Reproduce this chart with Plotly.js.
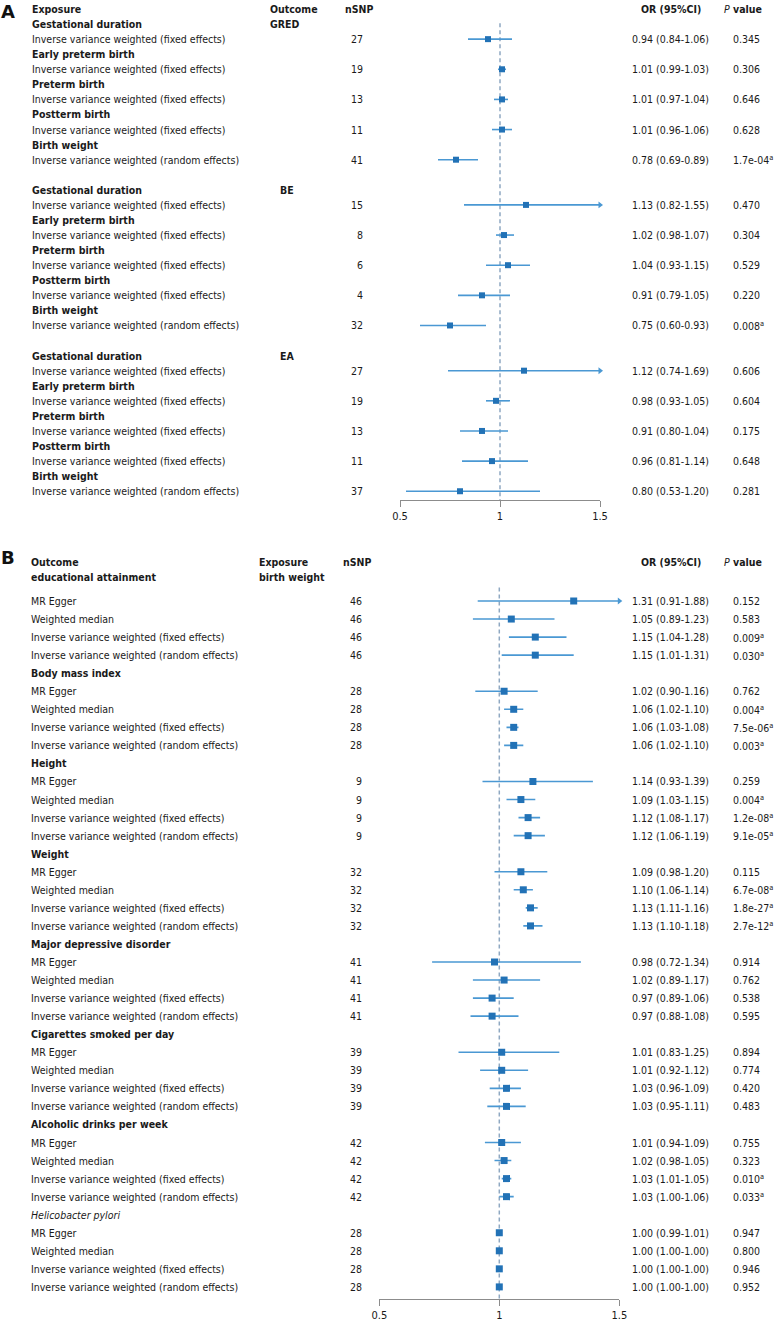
<!DOCTYPE html>
<html>
<head>
<meta charset="utf-8">
<script src="https://cdn.plot.ly/plotly-3.0.1.min.js"></script>
<style>html,body{margin:0;padding:0;background:#fff;}#chart{width:781px;height:1321px;}</style>
</head>
<body>
<div id="chart"></div>
<script>
// ---------- Panel A data ----------
const A_outcomes = ['GRED', 'BE', 'EA'];
const A_exposures = ['Gestational duration', 'Early preterm birth', 'Preterm birth', 'Postterm birth', 'Birth weight'];
const A_methods = ['Inverse variance weighted (fixed effects)', 'Inverse variance weighted (fixed effects)',
  'Inverse variance weighted (fixed effects)', 'Inverse variance weighted (fixed effects)',
  'Inverse variance weighted (random effects)'];
const A_nsnp = [27, 19, 13, 11, 41, 15, 8, 6, 4, 32, 27, 19, 13, 11, 37];
const A_or = [0.94, 1.01, 1.01, 1.01, 0.78, 1.13, 1.02, 1.04, 0.91, 0.75, 1.12, 0.98, 0.91, 0.96, 0.80];
const A_lo = [0.84, 0.99, 0.97, 0.96, 0.69, 0.82, 0.98, 0.93, 0.79, 0.60, 0.74, 0.93, 0.80, 0.81, 0.53];
const A_hi = [1.06, 1.03, 1.04, 1.06, 0.89, 1.55, 1.07, 1.15, 1.05, 0.93, 1.69, 1.05, 1.04, 1.14, 1.20];
const A_p = ['0.345', '0.306', '0.646', '0.628', '1.7e-04', '0.470', '0.304', '0.529', '0.220', '0.008',
  '0.606', '0.604', '0.175', '0.648', '0.281'];
const A_sig = [0, 0, 0, 0, 1, 0, 0, 0, 0, 1, 0, 0, 0, 0, 0];

// ---------- Panel B data ----------
const B_exposure = 'birth weight';
const B_outcomes = ['educational attainment', 'Body mass index', 'Height', 'Weight', 'Major depressive disorder',
  'Cigarettes smoked per day', 'Alcoholic drinks per week', 'Helicobacter pylori'];
const B_methods = ['MR Egger', 'Weighted median', 'Inverse variance weighted (fixed effects)',
  'Inverse variance weighted (random effects)'];
const B_nsnp = [46, 46, 46, 46, 28, 28, 28, 28, 9, 9, 9, 9, 32, 32, 32, 32, 41, 41, 41, 41,
  39, 39, 39, 39, 42, 42, 42, 42, 28, 28, 28, 28];
const B_or = [1.31, 1.05, 1.15, 1.15, 1.02, 1.06, 1.06, 1.06, 1.14, 1.09, 1.12, 1.12, 1.09, 1.10, 1.13, 1.13,
  0.98, 1.02, 0.97, 0.97, 1.01, 1.01, 1.03, 1.03, 1.01, 1.02, 1.03, 1.03, 1.00, 1.00, 1.00, 1.00];
const B_lo = [0.91, 0.89, 1.04, 1.01, 0.90, 1.02, 1.03, 1.02, 0.93, 1.03, 1.08, 1.06, 0.98, 1.06, 1.11, 1.10,
  0.72, 0.89, 0.89, 0.88, 0.83, 0.92, 0.96, 0.95, 0.94, 0.98, 1.01, 1.00, 0.99, 1.00, 1.00, 1.00];
const B_hi = [1.88, 1.23, 1.28, 1.31, 1.16, 1.10, 1.08, 1.10, 1.39, 1.15, 1.17, 1.19, 1.20, 1.14, 1.16, 1.18,
  1.34, 1.17, 1.06, 1.08, 1.25, 1.12, 1.09, 1.11, 1.09, 1.05, 1.05, 1.06, 1.01, 1.00, 1.00, 1.00];
const B_p = ['0.152', '0.583', '0.009', '0.030', '0.762', '0.004', '7.5e-06', '0.003',
  '0.259', '0.004', '1.2e-08', '9.1e-05', '0.115', '6.7e-08', '1.8e-27', '2.7e-12',
  '0.914', '0.762', '0.538', '0.595', '0.894', '0.774', '0.420', '0.483',
  '0.755', '0.323', '0.010', '0.033', '0.947', '0.800', '0.946', '0.952'];
const B_sig = [0, 0, 1, 1, 0, 1, 1, 1, 0, 1, 1, 1, 0, 1, 1, 1, 0, 0, 0, 0, 0, 0, 0, 0, 0, 0, 1, 1, 0, 0, 0, 0];

const TICKS = [0.5, 1, 1.5];
const CAP = 1.5;

// ---------- style ----------
const W = 781, H = 1321;
const FONT = 'DejaVu Sans Condensed, DejaVu Sans, sans-serif';
const FS = 10.5;
const TXT = '#1a1a1a';
const MARK = '#2272b6';
const LINE = '#4a98d3';
const px = v => v / W;

const annotations = [];
function ann(x, y, yref, text, anchor, extra) {
  annotations.push(Object.assign({
    xref: 'paper', x: px(x), yref: yref, y: y, text: text, showarrow: false,
    xanchor: anchor || 'left', yanchor: 'middle', borderpad: 0,
    font: {family: FONT, size: FS, color: TXT}
  }, extra || {}));
}
const fmt = v => v.toFixed(2);

// ---------- Panel A layout (rows in line units) ----------
const aRows = [], aHead = [];
A_outcomes.forEach((o, g) => {
  const base = 1 + 11 * g;
  A_exposures.forEach((e, k) => {
    aHead.push(base + 2 * k);
    aRows.push(base + 2 * k + 1);
  });
});

ann(0, 1, 'paper', '<b>A</b>', 'left', {yanchor: 'top', font: {family: 'DejaVu Sans, sans-serif', size: 18, color: '#111'}});
ann(31, 0, 'y', '<b>Exposure</b>');
ann(269, 0, 'y', '<b>Outcome</b>');
ann(344, 0, 'y', '<b>nSNP</b>');
ann(671, 0, 'y', '<b>OR (95%CI)</b>', 'center');
ann(723, 0, 'y', '<i>P</i><b> value</b>');
A_outcomes.forEach((o, g) => ann(g === 0 ? 269 : 279, 1 + 11 * g, 'y', '<b>' + o + '</b>'));
aHead.forEach((y, i) => ann(31, y, 'y', '<b>' + A_exposures[i % 5] + '</b>'));
aRows.forEach((y, i) => {
  ann(31, y, 'y', A_methods[i % 5]);
  ann(364, y, 'y', String(A_nsnp[i]), 'right');
  ann(631, y, 'y', fmt(A_or[i]) + ' (' + fmt(A_lo[i]) + '-' + fmt(A_hi[i]) + ')');
  ann(732, y, 'y', A_p[i] + (A_sig[i] ? '<sup>a</sup>' : ''));
});

// ---------- Panel B layout (rows in row units) ----------
const bRows = [], bHead = [];
B_outcomes.forEach((o, g) => {
  const base = g === 0 ? 0 : 4 + 5 * (g - 1) + 1;
  if (g > 0) bHead.push(base - 1);
  B_methods.forEach((m, k) => bRows.push(base + k));
});
const BH1 = -2.16, BH2 = -1.33;
ann(0, BH1 - 0.25, 'y2', '<b>B</b>', 'left', {font: {family: 'DejaVu Sans, sans-serif', size: 18, color: '#111'}});
ann(30, BH1, 'y2', '<b>Outcome</b>');
ann(30, BH2, 'y2', '<b>' + B_outcomes[0] + '</b>');
ann(258, BH1, 'y2', '<b>Exposure</b>');
ann(258, BH2, 'y2', '<b>' + B_exposure + '</b>');
ann(342, BH1, 'y2', '<b>nSNP</b>');
ann(671, BH1, 'y2', '<b>OR (95%CI)</b>', 'center');
ann(723, BH1, 'y2', '<i>P</i><b> value</b>');
bHead.forEach((y, i) => {
  const name = B_outcomes[i + 1];
  ann(30, y, 'y2', name === 'Helicobacter pylori' ? '<i>' + name + '</i>' : '<b>' + name + '</b>');
});
bRows.forEach((y, i) => {
  ann(30, y, 'y2', B_methods[i % 4]);
  ann(363, y, 'y2', String(B_nsnp[i]), 'right');
  ann(631, y, 'y2', fmt(B_or[i]) + ' (' + fmt(B_lo[i]) + '-' + fmt(B_hi[i]) + ')');
  ann(732, y, 'y2', B_p[i] + (B_sig[i] ? '<sup>a</sup>' : ''));
});

// ---------- traces ----------
function ciTrace(lo, hi, rows, xa, ya) {
  const x = [], y = [];
  rows.forEach((r, i) => { x.push(lo[i], Math.min(hi[i], CAP), null); y.push(r, r, null); });
  return {type: 'scatter', mode: 'lines', x, y, xaxis: xa, yaxis: ya,
    line: {color: LINE, width: 1.6}, hoverinfo: 'skip', cliponaxis: false};
}
function ptTrace(or, rows, xa, ya, size) {
  return {type: 'scatter', mode: 'markers', x: or, y: rows, xaxis: xa, yaxis: ya,
    marker: {symbol: 'square', size: size, color: MARK}, cliponaxis: false};
}
function arrowTrace(hi, rows, xa, ya) {
  const x = [], y = [];
  rows.forEach((r, i) => { if (hi[i] > CAP) { x.push(CAP); y.push(r); } });
  return {type: 'scatter', mode: 'markers', x, y, xaxis: xa, yaxis: ya,
    marker: {symbol: 'triangle-right', size: 6, color: LINE}, cliponaxis: false};
}

const data = [
  ciTrace(A_lo, A_hi, aRows, 'x', 'y'),
  ptTrace(A_or, aRows, 'x', 'y', 6),
  arrowTrace(A_hi, aRows, 'x', 'y'),
  ciTrace(B_lo, B_hi, bRows, 'x2', 'y2'),
  ptTrace(B_or, bRows, 'x2', 'y2', 7),
  arrowTrace(B_hi, bRows, 'x2', 'y2')
];

// pixel geometry
const A_TOP = 0, A_BOT = 500, A_L0 = 9, A_LS = 15.07;
const B_TOP = 540, B_BOT = 1299, B_R0 = 601, B_RS = 18.05;

const xaxisCommon = {
  range: [0.5, 1.5], tickvals: TICKS, ticktext: TICKS.map(String), showgrid: false, zeroline: false,
  showline: true, linecolor: '#8c8c8c', linewidth: 1, ticks: 'outside', ticklen: 6, tickcolor: '#8c8c8c',
  tickfont: {family: FONT, size: 11, color: TXT}, fixedrange: true
};

const layout = {
  width: W, height: H, margin: {l: 0, r: 0, t: 0, b: 0},
  paper_bgcolor: '#fff', plot_bgcolor: '#fff', showlegend: false,
  xaxis: Object.assign({}, xaxisCommon, {domain: [px(400), px(600)], anchor: 'y'}),
  yaxis: {domain: [1 - A_BOT / H, 1 - A_TOP / H], range: [(A_BOT - A_L0) / A_LS, (A_TOP - A_L0) / A_LS],
    visible: false, fixedrange: true},
  xaxis2: Object.assign({}, xaxisCommon, {domain: [px(379.3), px(619.3)], anchor: 'y2'}),
  yaxis2: {domain: [1 - B_BOT / H, 1 - B_TOP / H], range: [(B_BOT - B_R0) / B_RS, (B_TOP - B_R0) / B_RS],
    visible: false, fixedrange: true},
  shapes: [
    {type: 'line', xref: 'x', yref: 'y', x0: 1, x1: 1, y0: 0.95, y1: (A_BOT - A_L0) / A_LS,
      line: {color: '#8fa8c2', width: 1.5, dash: '4px,3px'}, layer: 'below'},
    {type: 'line', xref: 'x2', yref: 'y2', x0: 1, x1: 1, y0: -0.75, y1: (B_BOT - B_R0) / B_RS,
      line: {color: '#8fa8c2', width: 1.5, dash: '4px,3px'}, layer: 'below'}
  ],
  annotations: annotations
};

Plotly.newPlot('chart', data, layout, {displayModeBar: false, staticPlot: true});
</script>
</body>
</html>
